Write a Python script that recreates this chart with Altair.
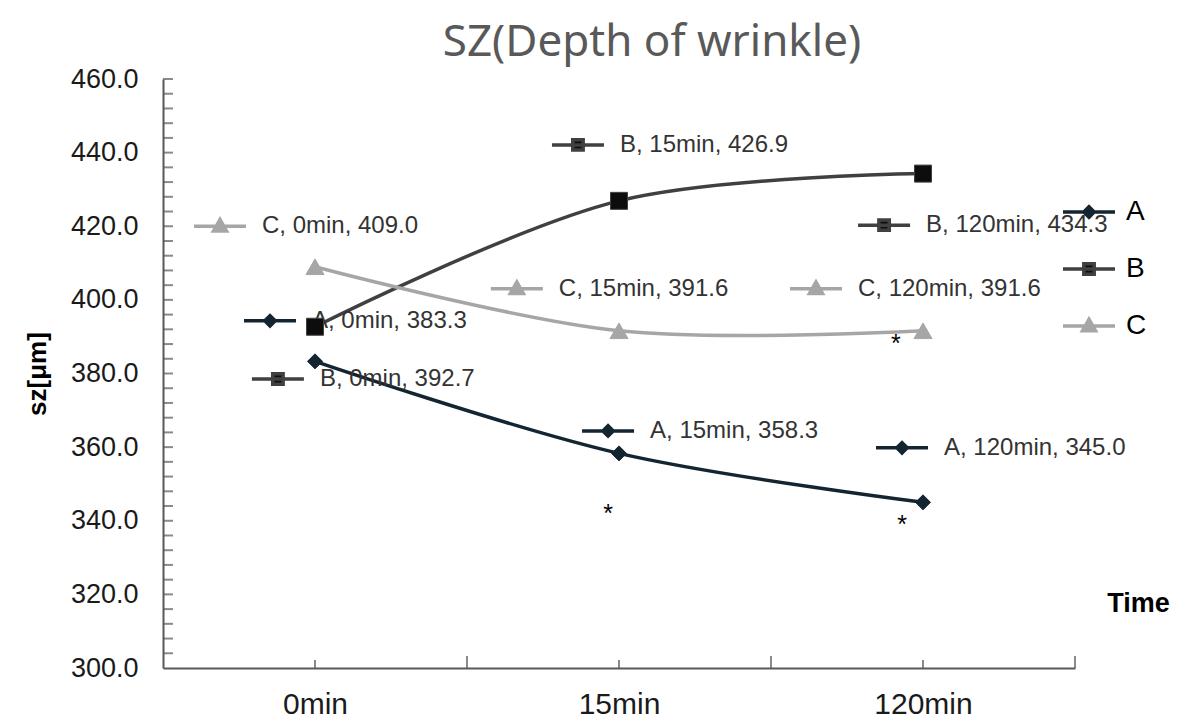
import altair as alt
import pandas as pd

# ---- data ----
series = ["A", "B", "C"]
times = ["0min", "15min", "120min"]
values_A = [383.3, 358.3, 345.0]
values_B = [392.7, 426.9, 434.3]
values_C = [409.0, 391.6, 391.6]

# ---- layout: data-label anchors (time index, sz value) ----
label_x_A = [-0.148, 0.964, 1.931]
label_y_A = [394.3, 364.4, 359.8]
label_x_B = [-0.122, 0.865, 1.872]
label_y_B = [378.5, 442.1, 420.3]
label_x_C = [-0.3125, 0.664, 1.648]
label_y_C = [420.0, 403.0, 403.0]

# significance marks
star_text = ["*", "*", "*"]
star_x = [0.964, 1.911, 1.931]
star_y = [343.5, 389.6, 340.5]

y_ticks = list(range(300, 461, 20))
y_minor = list(range(304, 461, 4))
x_centers = [0, 1, 2]
x_bounds = [0.5, 1.5, 2.5]

# ---- styles ----
line_colors = ["#142532", "#404040", "#a6a6a6"]
marker_fill = ["#142532", "#0d0d0d", "#a6a6a6"]
point_shapes = ["diamond", "square", "triangle-up"]
point_sizes = [225, 289, 324]
icon_paths = [
    "M-1,0H1M-0.2,0L0,-0.2L0.2,0L0,0.2Z",
    "M-1,0H1M-0.2,-0.2H0.2V0.2H-0.2Z",
    "M-1,0H1M-0.25,0.18L0.25,0.18L0,-0.26Z",
]
FONT = "Liberation Sans"

rows = []
vals = {"A": values_A, "B": values_B, "C": values_C}
lx = {"A": label_x_A, "B": label_x_B, "C": label_x_C}
ly = {"A": label_y_A, "B": label_y_B, "C": label_y_C}
for s in series:
    for i, t in enumerate(times):
        v = vals[s][i]
        rows.append({"series": s, "t": i, "time": t, "value": v,
                     "label": f"{s}, {t}, {v:.1f}",
                     "lx": lx[s][i], "ly": ly[s][i]})
df = pd.DataFrame(rows)

xscale = alt.Scale(domain=[-0.5, 2.5], nice=False, zero=False)
yscale = alt.Scale(domain=[300, 460], nice=False, zero=False)

x_axis = alt.Axis(values=x_centers,
                  labelExpr="['0min','15min','120min'][datum.value]",
                  labelFontSize=30, labelFont=FONT, labelColor="#1a1a1a",
                  labelPadding=21, ticks=False, tickSize=0, grid=False,
                  domainColor="#595959", domainWidth=2,
                  title="Time", titleFont=FONT, titleFontSize=27,
                  titleFontWeight="bold", titleColor="#000000",
                  titleX=975, titleY=-65, titleAlign="center",
                  titleBaseline="middle")
y_axis = alt.Axis(values=y_ticks, format=".1f",
                  labelFontSize=27, labelFont=FONT, labelColor="#1a1a1a",
                  labelPadding=25, ticks=False, tickSize=0, grid=False,
                  domainColor="#595959", domainWidth=2,
                  title="sz[μm]", titleFont=FONT, titleFontSize=26,
                  titleFontWeight="bold", titleColor="#000000",
                  titlePadding=20)

line_layers = []
for s, lc in zip(series, line_colors):
    line_layers.append(
        alt.Chart(df).transform_filter(alt.datum.series == s)
        .mark_line(strokeWidth=3.5, interpolate="catmull-rom", color=lc)
        .encode(x=alt.X("t:Q", scale=xscale, axis=x_axis),
                y=alt.Y("value:Q", scale=yscale, axis=y_axis))
    )

legend = alt.Legend(orient="none", legendX=898, legendY=105, title=None,
                    labelFontSize=28, labelFont=FONT, labelColor="#000000",
                    symbolSize=2704, symbolStrokeWidth=3.5, rowPadding=15,
                    labelOffset=9, padding=0)

icons = alt.Chart(df).mark_point(filled=True, size=2704, strokeWidth=3.5, opacity=1).encode(
    x=alt.X("lx:Q", scale=xscale),
    y=alt.Y("ly:Q", scale=yscale),
    fill=alt.Fill("series:N", scale=alt.Scale(domain=series, range=marker_fill), legend=legend),
    stroke=alt.Stroke("series:N", scale=alt.Scale(domain=series, range=line_colors), legend=legend),
    shape=alt.Shape("series:N", scale=alt.Scale(domain=series, range=icon_paths), legend=legend),
)

texts = alt.Chart(df).mark_text(align="left", baseline="middle", dx=42,
                                fontSize=24, font=FONT, color="#333333").encode(
    x=alt.X("lx:Q", scale=xscale),
    y=alt.Y("ly:Q", scale=yscale),
    text="label:N",
)

point_layers = []
for s, shp, sz, fc, lc in zip(series, point_shapes, point_sizes, marker_fill, line_colors):
    point_layers.append(
        alt.Chart(df).transform_filter(alt.datum.series == s)
        .mark_point(shape=shp, size=sz, filled=True, fill=fc, opacity=1,
                    stroke=lc, strokeWidth=1)
        .encode(x=alt.X("t:Q", scale=xscale), y=alt.Y("value:Q", scale=yscale))
    )

stars = alt.Chart(pd.DataFrame({"x": star_x, "y": star_y, "s": star_text})).mark_text(
    fontSize=25, font=FONT, color="#000000", baseline="middle", dy=6).encode(
    x=alt.X("x:Q", scale=xscale), y=alt.Y("y:Q", scale=yscale), text="s:N")

xticks_major = alt.Chart(pd.DataFrame({"x": x_bounds, "y": [300] * 3})).mark_tick(
    orient="vertical", size=12, thickness=2, color="#595959", yOffset=-6).encode(
    x=alt.X("x:Q", scale=xscale), y=alt.Y("y:Q", scale=yscale))
xticks_minor = alt.Chart(pd.DataFrame({"x": x_centers, "y": [300] * 3})).mark_tick(
    orient="vertical", size=8, thickness=2, color="#595959", yOffset=-4).encode(
    x=alt.X("x:Q", scale=xscale), y=alt.Y("y:Q", scale=yscale))
yticks = alt.Chart(pd.DataFrame({"x": [-0.5] * len(y_minor), "y": y_minor})).mark_tick(
    orient="horizontal", size=10, thickness=2, color="#595959", xOffset=5).encode(
    x=alt.X("x:Q", scale=xscale), y=alt.Y("y:Q", scale=yscale))

chart = alt.layer(*line_layers, icons, texts, *point_layers, stars,
                  xticks_major, xticks_minor, yticks).properties(
    width=912, height=589,
    autosize=alt.AutoSizeParams(type="none"),
    padding={"left": 155, "top": 71, "right": 100, "bottom": 50},
    title=alt.TitleParams("SZ(Depth of wrinkle)", font="Noto Sans", fontSize=44,
                          fontWeight="normal", color="#595959", anchor="middle",
                          dx=33, offset=0),
).configure_view(stroke=None)

chart.save("out.html", embed_options={"renderer": "svg", "actions": False})
